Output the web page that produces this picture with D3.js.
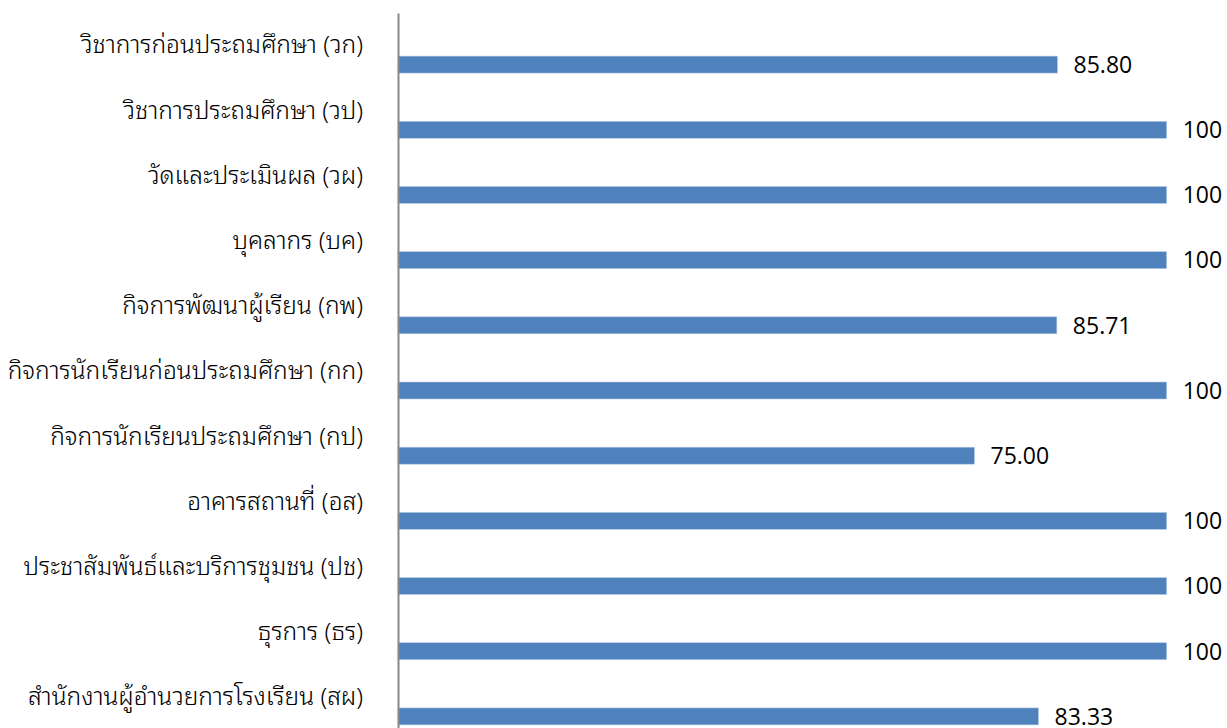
<!DOCTYPE html>
<html>
<head>
<meta charset="utf-8">
<script src="https://cdn.jsdelivr.net/npm/d3@7"></script>
<style>
  html, body { margin: 0; padding: 0; background: #ffffff; }
  svg { display: block; }
</style>
</head>
<body>
<svg id="chart" width="1227" height="728"></svg>
<script>
const categories = [
  "วิชาการก่อนประถมศึกษา (วก)",
  "วิชาการประถมศึกษา (วป)",
  "วัดและประเมินผล (วผ)",
  "บุคลากร (บค)",
  "กิจการพัฒนาผู้เรียน (กพ)",
  "กิจการนักเรียนก่อนประถมศึกษา (กก)",
  "กิจการนักเรียนประถมศึกษา (กป)",
  "อาคารสถานที่ (อส)",
  "ประชาสัมพันธ์และบริการชุมชน (ปช)",
  "ธุรการ (ธร)",
  "สำนักงานผู้อำนวยการโรงเรียน (สผ)"
];
const values = [85.80, 100, 100, 100, 85.71, 100, 75.00, 100, 100, 100, 83.33];
const valueLabels = ["85.80", "100", "100", "100", "85.71", "100", "75.00", "100", "100", "100", "83.33"];

const svg = d3.select("#chart");
const x = d3.scaleLinear().domain([0, 100]).range([398, 1166.7]);
const y = d3.scaleBand().domain(categories).range([13, 730]).paddingInner(0).paddingOuter(0);

const barOffset = 10.5, barH = 17;

svg.append("g").selectAll("rect")
  .data(categories)
  .join("rect")
  .attr("x", x(0))
  .attr("y", d => y(d) + y.bandwidth() / 2 + barOffset)
  .attr("width", (d, i) => x(values[i]) - x(0))
  .attr("height", barH)
  .attr("fill", "#4F81BD")
  .attr("stroke", "#B9CDE5")
  .attr("stroke-width", 0.6);

// axis line (category axis) without ticks
const yAxis = d3.axisLeft(y).tickSize(0).tickPadding(35);
const ga = svg.append("g").attr("transform", `translate(${x(0)},0)`).call(yAxis);
ga.select(".domain").attr("stroke", "#898989").attr("stroke-width", 2);
ga.selectAll("text")
  .attr("font-family", "'Noto Sans Thai Looped', 'Noto Serif Thai', 'Noto Sans Thai', sans-serif")
  .attr("font-size", 24.5)
  .attr("font-weight", 300)
  .attr("fill", "#000000");

svg.append("g").selectAll("text")
  .data(categories)
  .join("text")
  .attr("x", (d, i) => x(values[i]) + 16)
  .attr("y", d => y(d) + y.bandwidth() / 2 + barOffset + barH / 2)
  .attr("dy", "0.36em")
  .attr("font-family", "'Open Sans', Calibri, sans-serif")
  .attr("font-size", 23)
  .attr("fill", "#000000")
  .text((d, i) => valueLabels[i]);
</script>
</body>
</html>
